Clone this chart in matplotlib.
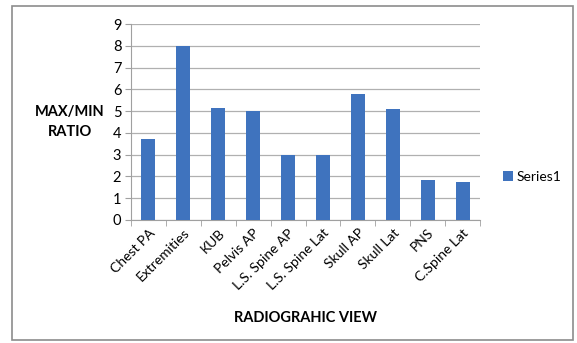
import matplotlib.pyplot as plt
import matplotlib.patches as patches
import numpy as np

views = ['Chest PA', 'Extremities', 'KUB', 'Pelvis AP', 'L.S. Spine AP',
         'L.S. Spine Lat', 'Skull AP', 'Skull Lat', 'PNS', 'C.Spine Lat']
ratios = [3.7, 8.0, 5.15, 5.0, 3.0, 3.0, 5.8, 5.1, 1.85, 1.75]
yticks = list(range(0, 10))

plt.rcParams['font.family'] = ['Lato', 'DejaVu Sans']

fig = plt.figure(figsize=(5.77, 3.43), dpi=100)
ax = fig.add_axes([0.227, 0.359, 0.605, 0.571])

# chart frame around everything
fig.patches.append(patches.Rectangle((0.021, 0.01), 0.972, 0.972, transform=fig.transFigure,
                                     fill=False, edgecolor='#8c8c8c', linewidth=1.2))

x = np.arange(len(views))
ax.bar(x, ratios, width=0.4, color='#3F73BE', label='Series1', zorder=3)

ax.set_xlim(-0.5, len(views) - 0.5)
ax.set_ylim(0, 9)
ax.set_yticks(yticks)
ax.yaxis.grid(True, color='#b0b0b0', linewidth=0.9, zorder=0)

ax.set_xticks(x)
ax.set_xticklabels(views, rotation=45, ha='right', rotation_mode='anchor', fontsize=10)
ax.set_xticks(np.arange(len(views) + 1) - 0.5, minor=True)
ax.tick_params(axis='x', which='major', length=0, pad=5)
ax.tick_params(axis='x', which='minor', length=4, color='#a0a0a0', direction='out')
ax.tick_params(axis='y', length=4, color='#a0a0a0', labelsize=10.5, pad=3)

for side in ['top', 'right']:
    ax.spines[side].set_visible(False)
for side in ['left', 'bottom']:
    ax.spines[side].set_color('#a0a0a0')

ax.set_ylabel('MAX/MIN\nRATIO', rotation=0, fontweight='bold', fontsize=10.5,
              ha='center', va='center', linespacing=1.6)
ax.yaxis.set_label_coords(-0.175, 0.5)
ax.set_xlabel('RADIOGRAHIC VIEW', fontweight='bold', fontsize=10.5, va='center')
ax.xaxis.set_label_coords(0.5, -0.5)

ax.legend(loc='center left', bbox_to_anchor=(1.03, 0.22), frameon=False,
          fontsize=10, handlelength=0.7, handleheight=0.7, handletextpad=0.3)

plt.savefig('out.png', dpi=100)
